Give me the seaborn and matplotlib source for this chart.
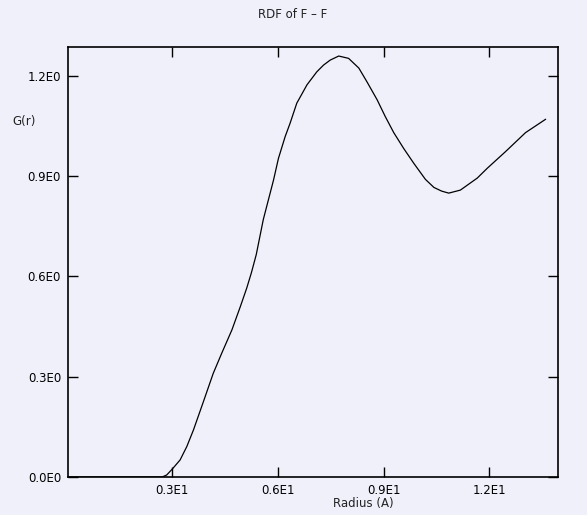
import matplotlib
matplotlib.use("Agg")
import matplotlib.pyplot as plt
import seaborn as sns
from pandas import DataFrame

# radius (A) and G(r)
radius = [0.05, 1.0, 2.0, 2.5, 2.72, 2.85, 3.01, 3.23, 3.42, 3.61, 3.89, 4.17, 4.41,
          4.70, 4.94, 5.12, 5.25, 5.39, 5.59, 5.88, 6.02, 6.21, 6.35, 6.54, 6.83,
          7.11, 7.30, 7.49, 7.73, 8.01, 8.30, 8.53, 8.82, 9.05, 9.29, 9.57, 9.86, 10.19,
          10.43, 10.65, 10.85, 11.18, 11.66, 11.94, 12.46, 13.03, 13.60]
gr = [0.0, 0.0, 0.0, 0.0, 0.0, 0.006, 0.024, 0.051, 0.091, 0.141, 0.225, 0.31, 0.37,
      0.44, 0.51, 0.565, 0.61, 0.665, 0.77, 0.888, 0.953, 1.018, 1.058, 1.118, 1.173,
      1.212, 1.232, 1.247, 1.259, 1.252, 1.223, 1.182, 1.128, 1.078, 1.030, 0.983, 0.938, 0.89,
      0.866, 0.855, 0.849, 0.858, 0.894, 0.923, 0.973, 1.03, 1.07]

xticks = [3, 6, 9, 12]
xticklabels = ["0.3E1", "0.6E1", "0.9E1", "1.2E1"]
yticks = [0.0, 0.3, 0.6, 0.9, 1.2]
yticklabels = ["0.0E0", "0.3E0", "0.6E0", "0.9E0", "1.2E0"]

bg = "#f0f0fb"
sns.set_style("ticks")
plt.rcParams['font.family'] = ['DejaVu Sans']

df = DataFrame({"radius": radius, "gr": gr})

fig = plt.figure(figsize=(5.87, 5.15), dpi=100, facecolor=bg)
ax = fig.add_axes([68 / 587, 1 - 477 / 515, 490 / 587, 430 / 515])
ax.set_facecolor(bg)

sns.lineplot(data=df, x="radius", y="gr", ax=ax, color="black", linewidth=0.9)

ax.set_xlim(0.05, 13.95)
ax.set_ylim(0, 1.286)
ax.set_xticks(xticks)
ax.set_xticklabels(xticklabels)
ax.set_yticks(yticks)
ax.set_yticklabels(yticklabels)
ax.tick_params(direction="in", length=7, width=1, top=True, right=True,
               labelsize=8.5, colors="black", pad=5)
for s in ax.spines.values():
    s.set_linewidth(1.2)
    s.set_color("black")

ax.set_xlabel("")
ax.set_ylabel("")
fig.text(363 / 587, 1 - 503 / 515, "Radius (A)", ha="center", va="center", fontsize=8.5, color="#222222")
fig.text(12 / 587, 1 - 122 / 515, "G(r)", ha="left", va="center", fontsize=8.5, color="#222222")
fig.text(293 / 587, 1 - 15 / 515, "RDF of F \u2013 F", ha="center", va="center", fontsize=8.5, color="#222222")

fig.savefig("out.png", dpi=100, facecolor=bg)
